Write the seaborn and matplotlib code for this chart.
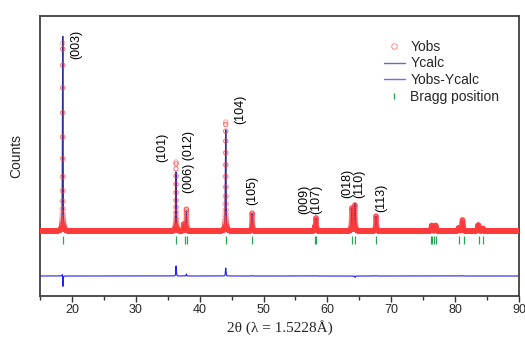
import numpy as np
import pandas as pd
import matplotlib
matplotlib.use("Agg")
import matplotlib.pyplot as plt
from matplotlib.lines import Line2D
import seaborn as sns

# Reflections of the refined phase: position (2theta, deg), observed height,
# calculated height (counts above background) and FWHM (deg)
peak_pos = [18.56, 36.30, 37.50, 37.92, 44.08, 48.22, 58.02, 58.22, 63.82,
            64.30, 67.62, 76.35, 76.95, 80.55, 81.15, 83.62, 84.30]
obs_height = [9400, 3450, 350, 1100, 5450, 900, 200, 650, 1150,
              1300, 750, 280, 280, 150, 550, 300, 130]
calc_height = [9750, 2950, 330, 1000, 5050, 880, 200, 640, 1150,
               1360, 740, 280, 280, 150, 530, 300, 130]
calc_shift = [0.002, 0.0, 0.0, 0.0, 0.0, 0.0, 0.0, 0.0, 0.0,
              0.002, 0.0, 0.0, 0.0, 0.0, 0.0, 0.0, 0.0]
peak_fwhm = [0.10, 0.11, 0.11, 0.11, 0.12, 0.13, 0.14, 0.14, 0.15,
             0.15, 0.15, 0.18, 0.18, 0.19, 0.19, 0.20, 0.20]
background = 500
diff_offset = -1750

# Bragg reflection markers
bragg_pos = [18.56, 36.30, 37.66, 38.02, 44.08, 48.22, 58.02, 58.24, 63.86,
             64.33, 67.62, 76.2, 76.45, 76.75, 77.0, 80.56, 81.35, 83.70, 84.40]
bragg_level = 50

# Miller index labels: text, x position, lower y of the text
hkl_text = ["(003)", "(101)", "(006) (012)", "(104)", "(105)",
            "(009)\n(107)", "(018)\n(110)", "(113)"]
hkl_x = [20.7, 34.2, 38.4, 46.4, 48.2, 57.3, 64.0, 68.5]
hkl_y = [9100, 3950, 2400, 5830, 1800, 1350, 2150, 1450]

two_theta = np.arange(15.0, 90.0001, 0.01)


def profile(x, pos, height, fwhm, shift=None):
    """Sum of pseudo-Voigt peaks on a flat background."""
    y = np.full_like(x, float(background))
    if shift is None:
        shift = [0.0] * len(pos)
    for p, h, w, s in zip(pos, height, fwhm, shift):
        d = (x - p - s) / (w / 2)
        gauss = np.exp(-np.log(2) * d ** 2)
        lor = 1.0 / (1.0 + d ** 2)
        y += h * (0.6 * gauss + 0.4 * lor)
    return y


y_obs = profile(two_theta, peak_pos, obs_height, peak_fwhm)
y_calc = profile(two_theta, peak_pos, calc_height, peak_fwhm, calc_shift)
df = pd.DataFrame({"two_theta": two_theta, "Yobs": y_obs, "Ycalc": y_calc,
                   "diff": y_obs - y_calc + diff_offset})
bragg_df = pd.DataFrame({"pos": bragg_pos, "level": [bragg_level] * len(bragg_pos)})

sns.set_theme(style="ticks")
plt.rcParams["font.family"] = ["Liberation Sans", "DejaVu Sans"]

fig = plt.figure(figsize=(5.25, 3.38), dpi=100)
ax = fig.add_axes([40 / 525, 1 - 296 / 338, 479 / 525, 280 / 338])

obs_color = "#ff3b3b"
calc_color = "#2c2ca6"
diff_color = "#1f1fff"
bragg_color = "#2aa55a"

sns.lineplot(data=df, x="two_theta", y="Ycalc", ax=ax, color=calc_color,
             lw=0.9, zorder=2, estimator=None, sort=False)
sns.scatterplot(data=df, x="two_theta", y="Yobs", ax=ax, marker="o", s=10,
                facecolor="none", edgecolor=obs_color, linewidth=0.6,
                alpha=0.5, zorder=3)
sns.lineplot(data=df, x="two_theta", y="diff", ax=ax, color=diff_color,
             lw=0.8, zorder=2, estimator=None, sort=False)
sns.scatterplot(data=bragg_df, x="pos", y="level", ax=ax, marker="|", s=30,
                color=bragg_color, linewidth=0.9, zorder=2)

for t, x, y in zip(hkl_text, hkl_x, hkl_y):
    ax.text(x, y, t, rotation=90, ha="center", va="bottom", fontsize=9,
            linespacing=1.0, color="black")

ax.set_xlim(15, 90)
ax.set_ylim(-2750, 11250)
ax.set_xticks(range(20, 91, 10))
ax.set_xticks(range(15, 91, 5), minor=True)
ax.set_yticks([])
ax.tick_params(axis="x", which="major", direction="out", length=4, width=1,
               labelsize=9, pad=2, color="#333333")
ax.tick_params(axis="x", which="minor", direction="out", length=3, width=1,
               color="#333333")
for sp in ax.spines.values():
    sp.set_visible(True)
    sp.set_color("#404040")
    sp.set_linewidth(1.3)

ax.set_ylabel("Counts", fontsize=10, labelpad=12)
ax.set_xlabel("2θ (λ = 1.5228Å)", fontsize=11,
              family=["Liberation Serif", "DejaVu Serif"], labelpad=3)

handles = [
    Line2D([], [], marker="o", ls="none", markerfacecolor="none",
           markeredgecolor=obs_color, markersize=4, markeredgewidth=0.7, alpha=0.6),
    Line2D([], [], color="#6a6ab8", lw=1.0),
    Line2D([], [], color="#6a6aff", lw=1.0),
    Line2D([], [], marker="|", ls="none", color=bragg_color, markersize=5),
]
ax.legend(handles, ["Yobs", "Ycalc", "Yobs-Ycalc", "Bragg position"],
          loc="upper left", bbox_to_anchor=(0.692, 0.96), frameon=False,
          fontsize=10, handlelength=1.5, handletextpad=0.4, labelspacing=0.2,
          borderpad=0.4)

fig.savefig("out.png", dpi=100)
